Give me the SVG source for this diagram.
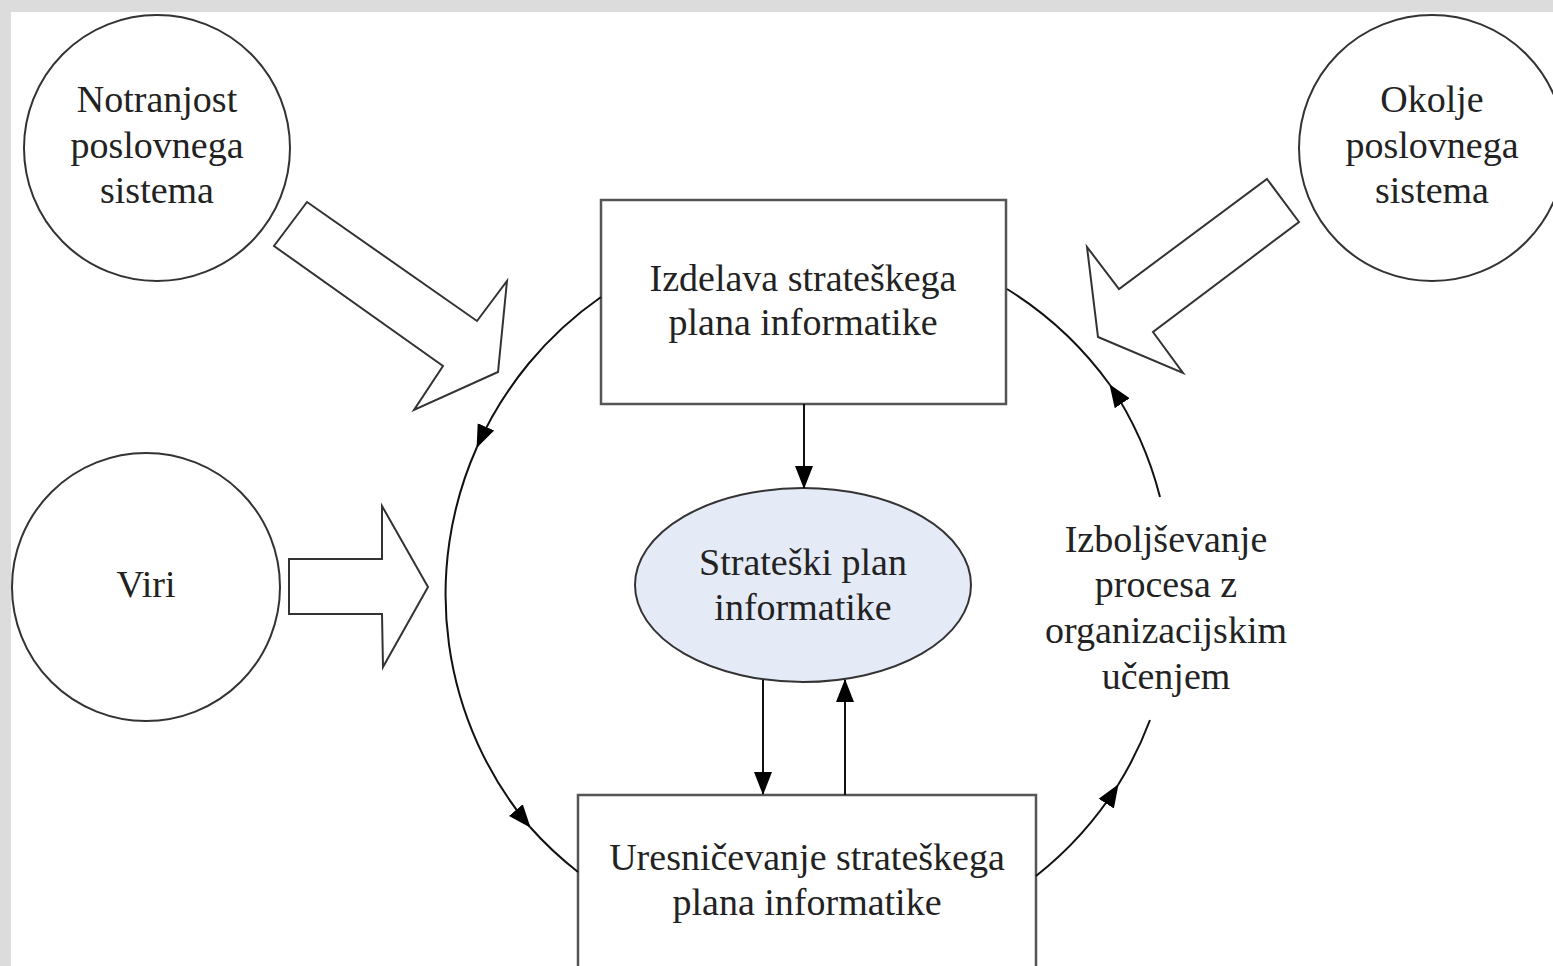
<svg xmlns="http://www.w3.org/2000/svg" width="1553" height="966" viewBox="0 0 1553 966">
<style>
.txt{font-family:"Liberation Serif","Times New Roman",serif;font-size:38px;fill:#222;text-anchor:middle}
.circ{fill:#fff;stroke:#333;stroke-width:2}
.box{fill:#fff;stroke:#555;stroke-width:2.5}
.big{fill:#fff;stroke:#333;stroke-width:2;stroke-linejoin:miter}
.con{fill:none;stroke:#111;stroke-width:2}
</style>
<defs>
<marker id="ah" markerUnits="userSpaceOnUse" viewBox="0 0 24 20" markerWidth="24" markerHeight="20" refX="22" refY="10" orient="auto">
<path d="M0,1 L23,10 L0,19 Z" fill="#000"/>
</marker>
</defs>
<rect x="0" y="0" width="1553" height="966" fill="#dcdcdc"/>
<rect x="11" y="12" width="1542" height="954" fill="#fff"/>

<g id="notranjost">
<circle class="circ" cx="157" cy="148" r="133"/>
<text class="txt" x="157" y="112">Notranjost</text>
<text class="txt" x="157" y="158">poslovnega</text>
<text class="txt" x="157" y="203">sistema</text>
</g>
<g id="okolje">
<circle class="circ" cx="1432" cy="148" r="133"/>
<text class="txt" x="1432" y="112">Okolje</text>
<text class="txt" x="1432" y="158">poslovnega</text>
<text class="txt" x="1432" y="203">sistema</text>
</g>
<g id="viri">
<circle class="circ" cx="146" cy="587" r="134"/>
<text class="txt" x="146" y="597">Viri</text>
</g>

<g id="arrow-notranjost">
<polygon class="big" points="307,202 477,321 507,281 498,372 414,410 443,366 274,246"/>
</g>
<g id="arrow-okolje">
<polygon class="big" points="1267,179 1299,222 1153,332 1183,373 1098,337 1087,247 1119,289"/>
</g>
<g id="arrow-viri">
<polygon class="big" points="289,559 382,559 382,506 428,587 383,667 382,614 289,614"/>
</g>

<g id="izdelava">
<rect class="box" x="601" y="200" width="405" height="204"/>
<text class="txt" x="803" y="291">Izdelava strateškega</text>
<text class="txt" x="803" y="335">plana informatike</text>
</g>
<g id="strateski-plan">
<ellipse cx="803" cy="585" rx="168" ry="97" fill="#e4eaf6" stroke="#333" stroke-width="2"/>
<text class="txt" x="803" y="575">Strateški plan</text>
<text class="txt" x="803" y="620">informatike</text>
</g>
<g id="uresnicevanje">
<rect class="box" x="578" y="795" width="458" height="190"/>
<text class="txt" x="807" y="870">Uresničevanje strateškega</text>
<text class="txt" x="807" y="915">plana informatike</text>
</g>
<g id="izboljsevanje">
<text class="txt" x="1166" y="552">Izboljševanje</text>
<text class="txt" x="1166" y="597">procesa z</text>
<text class="txt" x="1166" y="643">organizacijskim</text>
<text class="txt" x="1166" y="689">učenjem</text>
</g>

<g id="connectors">
<line class="con" x1="804" y1="404" x2="804" y2="488" marker-end="url(#ah)"/>
<line class="con" x1="763" y1="680" x2="763" y2="794" marker-end="url(#ah)"/>
<line class="con" x1="845" y1="795" x2="845" y2="680" marker-end="url(#ah)"/>
<path class="con" d="M601,297 A362,362 0 0 0 477,447" marker-end="url(#ah)"/>
<path class="con" d="M477,447 A362,362 0 0 0 530,827" marker-end="url(#ah)"/>
<path class="con" d="M530,827 A362,362 0 0 0 578,872"/>
<path class="con" d="M1036,876 A362,362 0 0 0 1118,785" marker-end="url(#ah)"/>
<path class="con" d="M1118,785 A362,362 0 0 0 1150,720"/>
<path class="con" d="M1160,497 A362,362 0 0 0 1110,385" marker-end="url(#ah)"/>
<path class="con" d="M1110,385 A362,362 0 0 0 1007,289"/>
</g>
</svg>
